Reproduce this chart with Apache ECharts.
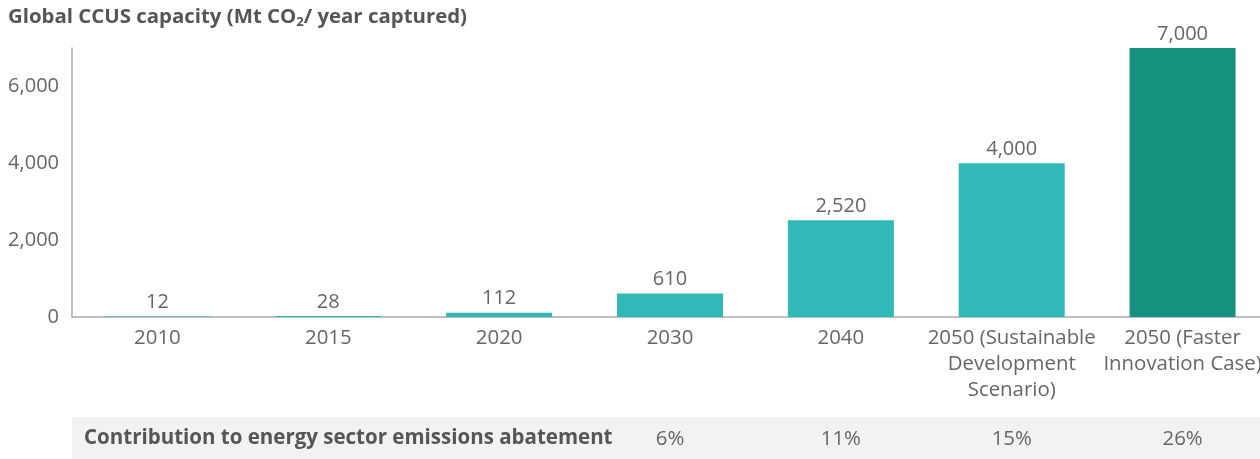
<!DOCTYPE html>
<html><head><meta charset="utf-8">
<script src="https://cdn.jsdelivr.net/npm/echarts@6/dist/echarts.min.js"></script>
<style>html,body{margin:0;padding:0;background:#fff}#c{width:1260px;height:459px}</style>
</head><body><div id="c"></div>
<script>
const categories = ['2010','2015','2020','2030','2040','2050 (Sustainable\nDevelopment\nScenario)','2050 (Faster\nInnovation Case)'];
const capacity = [12, 28, 112, 610, 2520, 4000, 7000];
const abatement = ['', '', '', '6%', '11%', '15%', '26%'];
const yTicks = [0, 2000, 4000, 6000];
const tableLabel = 'Contribution to energy sector emissions abatement';

const FONT = '"Open Sans", sans-serif';
const fmt = v => Number(v).toLocaleString('en-US');
const chart = echarts.init(document.getElementById('c'));
chart.setOption({
  animation: false,
  textStyle: {fontFamily: FONT},
  title: {
    text: 'Global CCUS capacity (Mt CO{sub|2}/ year captured)',
    left: 8, top: 6, padding: 0, itemGap: 0,
    textStyle: {
      fontFamily: FONT, fontSize: 20.4, fontWeight: 'bold', color: '#555',
      rich: {sub: {fontFamily: FONT, fontSize: 13, fontWeight: 'bold', color: '#555', verticalAlign: 'bottom', padding: [10,0,0,0]}}
    }
  },
  graphic: [
    {type: 'rect', left: 72, top: 417, shape: {width: 1188, height: 42}, style: {fill: '#f2f2f2'}, z: 0},
    {type: 'text', left: 84, top: 428, style: {text: tableLabel, font: 'bold 20.5px ' + FONT, fill: '#555'}, z: 10}
  ],
  grid: [
    {left: 72, width: 1196, top: 48, bottom: 142, containLabel: false, outerBoundsMode: 'none'},
    {left: 72, width: 1196, top: 400, height: 20, containLabel: false, outerBoundsMode: 'none'}
  ],
  xAxis: [
    {type: 'category', data: categories, gridIndex: 0,
     axisLine: {lineStyle: {color: '#aaa', width: 1.5}}, axisTick: {show: false},
     axisLabel: {color: '#666', fontSize: 20.4, lineHeight: 26, margin: 8, interval: 0, fontFamily: FONT}},
    {type: 'category', data: abatement, gridIndex: 1,
     axisLine: {show: false}, axisTick: {show: false},
     axisLabel: {color: '#666', fontSize: 20.4, margin: 9, interval: 0, fontFamily: FONT}}
  ],
  yAxis: [
    {type: 'value', gridIndex: 0, min: 0, max: 7000, interval: 2000,
     axisLine: {show: true, lineStyle: {color: '#aaa', width: 1.5}}, axisTick: {show: false},
     splitLine: {show: false},
     axisLabel: {color: '#666', fontSize: 20, margin: 13, showMaxLabel: false, fontFamily: FONT,
       formatter: v => yTicks.includes(v) ? fmt(v) : ''}},
    {type: 'value', gridIndex: 1, show: false}
  ],
  series: [{
    type: 'bar', xAxisIndex: 0, yAxisIndex: 0, barWidth: 106,
    data: capacity.map((v, i) => ({value: v, itemStyle: {color: i === capacity.length - 1 ? '#17917f' : '#31b9b8'}})),
    label: {show: true, position: 'top', distance: 4, color: '#666', fontSize: 20, fontFamily: FONT,
      formatter: p => fmt(p.value)}
  }]
});
</script></body></html>
